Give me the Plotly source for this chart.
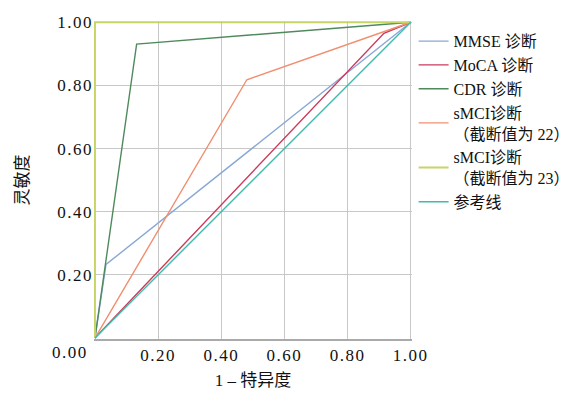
import plotly.graph_objects as go

names = ["MMSE 诊断", "MoCA 诊断", "CDR 诊断", "sMCI诊断<br>（截断值为 22）", "sMCI诊断<br>（截断值为 23）", "参考线"]
fpr = [
    [0.0, 0.035, 1.0],
    [0.0, 0.915, 1.0],
    [0.0, 0.132, 1.0],
    [0.0, 0.481, 1.0],
    [0.0, 0.0, 1.0],
    [0.0, 1.0],
]
tpr = [
    [0.0, 0.233, 1.0],
    [0.0, 0.965, 1.0],
    [0.0, 0.931, 1.0],
    [0.0, 0.818, 1.0],
    [0.0, 1.0, 1.0],
    [0.0, 1.0],
]
colors = ["#89a8d6", "#c93a5e", "#4f8a5c", "#ef8f70", "#c9d466", "#3fbcad"]
ticks = [0.2, 0.4, 0.6, 0.8, 1.0]
tick_text = ["0.20", "0.40", "0.60", "0.80", "1.00"]

sp = '<span style="letter-spacing:1.5px">{}</span>'
ttext = [sp.format(t) for t in tick_text]

fig = go.Figure()
for n, x, y, c in zip(names, fpr, tpr, colors):
    fig.add_trace(go.Scatter(x=x, y=y, mode="lines", name=n,
                             line=dict(color=c, width=2 if c == "#c9d466" else 1.4)))

font_fam = "Liberation Serif, Noto Sans CJK SC"
# page body has an 8px default margin; figure is sized to fit the window
fig.update_layout(
    width=571, height=387,
    margin=dict(l=86, r=167, t=13, b=56, autoexpand=False),
    paper_bgcolor="white", plot_bgcolor="white",
    font=dict(family=font_fam, size=17, color="#111"),
    legend=dict(x=1.005, y=0.99, xanchor="left", yanchor="top",
                font=dict(size=16), itemwidth=30, tracegroupgap=0,
                bgcolor="rgba(0,0,0,0)"),
    xaxis=dict(range=[-0.003, 1.004], tickvals=ticks, ticktext=ttext,
               showgrid=True, gridcolor="#c8c8c8", gridwidth=1, automargin=False,
               zeroline=False, showline=True, linecolor="#aaaaaa", linewidth=1.5,
               ticks="", ticklen=0, tickfont=dict(size=17),
               title=dict(text="1 – 特异度", standoff=10, font=dict(size=17))),
    yaxis=dict(range=[-0.003, 1.004], tickvals=ticks, ticktext=ttext,
               showgrid=True, gridcolor="#c8c8c8", gridwidth=1, automargin=False,
               zeroline=False, showline=False, ticks="", tickfont=dict(size=17),
               title=dict(text="灵敏度", standoff=24, font=dict(size=17))),
    showlegend=True,
)
fig.add_annotation(x=0, y=0, xref="x", yref="y", text=sp.format("0.00"), showarrow=False,
                   xanchor="right", yanchor="top", xshift=-5, yshift=-3,
                   font=dict(family=font_fam, size=17, color="#111"))

fig.write_html("out.html")
